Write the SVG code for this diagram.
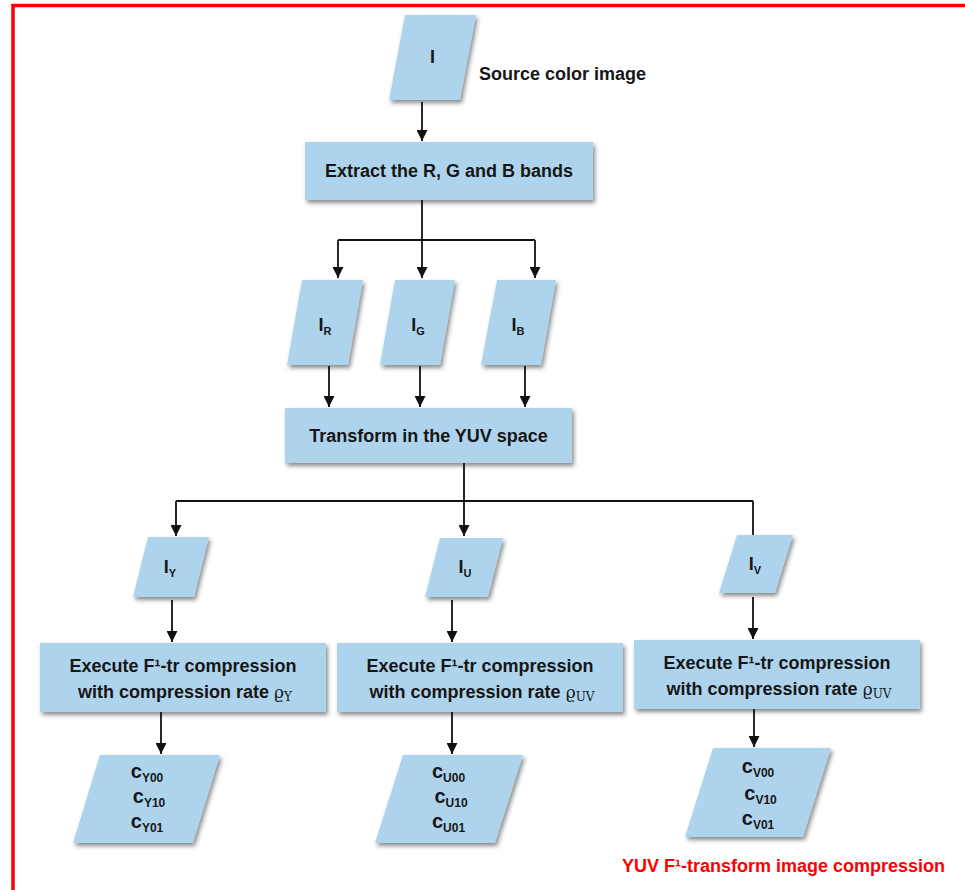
<svg xmlns="http://www.w3.org/2000/svg" width="965" height="890" viewBox="0 0 965 890">
<style>
.shape{fill:#aed4ed;filter:url(#sh)}
.t{font-family:"Liberation Sans",Arial,sans-serif;font-weight:bold;font-size:18px;fill:#161616}
.tm{text-anchor:middle}
.sub{font-size:11px}
.csub{font-size:12px}
.rho{font-family:"DejaVu Serif","Liberation Serif",serif;font-weight:normal;font-size:17px}
.rsub{font-family:"DejaVu Serif","Liberation Serif",serif;font-weight:normal;font-size:12px}
.c{font-size:20px}
.conn path{fill:none;stroke:#111;stroke-width:1.8}
.cap{font-family:"Liberation Sans",Arial,sans-serif;font-weight:bold;font-size:18px;fill:#ff0000}
</style>
<defs>
<filter id="sh" x="-10%" y="-10%" width="130%" height="140%">
<feDropShadow dx="2" dy="3" stdDeviation="2" flood-color="#333" flood-opacity="0.55"/>
</filter>
<marker id="ah" markerUnits="userSpaceOnUse" markerWidth="12" markerHeight="11" refX="11" refY="5.5" orient="auto">
<path d="M0,0 L11,5.5 L0,11 z" fill="#111"/>
</marker>
</defs>
<rect width="965" height="890" fill="#fff"/>
<path d="M13,890 V5.5 H965" fill="none" stroke="#ff0000" stroke-width="3.5"/>

<g id="n-I"><polygon class="shape" points="405,15 476,15 460,100 389,100"/><text class="t tm" x="432.5" y="63">I</text></g>
<text class="t" x="479" y="80">Source color image</text>

<g id="n-extract"><rect class="shape" x="305" y="142" width="288" height="58"/><text class="t tm" x="449" y="177">Extract the R, G and B bands</text></g>

<g id="n-IR"><polygon class="shape" points="302,280 363,280 348,365 287,365"/><text class="t tm" x="325" y="331">I<tspan class="sub" dy="4">R</tspan></text></g>
<g id="n-IG"><polygon class="shape" points="395,280 455,280 440,365 380,365"/><text class="t tm" x="418" y="331">I<tspan class="sub" dy="4">G</tspan></text></g>
<g id="n-IB"><polygon class="shape" points="497,280 556,280 541,365 481,365"/><text class="t tm" x="518" y="331">I<tspan class="sub" dy="4">B</tspan></text></g>

<g id="n-transform"><rect class="shape" x="285" y="408" width="287" height="55"/><text class="t tm" x="428.5" y="442">Transform in the YUV space</text></g>

<g id="n-IY"><polygon class="shape" points="148,537 209,537 194,597 133,597"/><text class="t tm" x="170" y="573">I<tspan class="sub" dy="4">Y</tspan></text></g>
<g id="n-IU"><polygon class="shape" points="440,538 503,538 488,597 425,597"/><text class="t tm" x="465" y="573">I<tspan class="sub" dy="4">U</tspan></text></g>
<g id="n-IV"><polygon class="shape" points="737,535 793,535 775,593 719,593"/><text class="t tm" x="755" y="570">I<tspan class="sub" dy="4">V</tspan></text></g>

<g id="n-execY"><rect class="shape" x="40" y="643" width="286" height="69"/>
<text class="t tm" x="183" y="672">Execute F¹-tr compression</text>
<text class="t tm" x="185" y="698">with compression rate <tspan class="rho">ϱ</tspan><tspan class="rsub" dy="3">Y</tspan></text></g>
<g id="n-execU"><rect class="shape" x="337" y="643" width="286" height="69"/>
<text class="t tm" x="480" y="672">Execute F¹-tr compression</text>
<text class="t tm" x="482" y="698">with compression rate <tspan class="rho">ϱ</tspan><tspan class="rsub" dy="3">UV</tspan></text></g>
<g id="n-execV"><rect class="shape" x="634" y="640" width="286" height="69"/>
<text class="t tm" x="777" y="669">Execute F¹-tr compression</text>
<text class="t tm" x="779" y="695">with compression rate <tspan class="rho">ϱ</tspan><tspan class="rsub" dy="3">UV</tspan></text></g>

<g id="n-cY"><polygon class="shape" points="100,755 220,755 193,843 73,843"/>
<text class="t tm" x="147" y="778"><tspan class="c">c</tspan><tspan class="csub" dy="4">Y00</tspan></text>
<text class="t tm" x="149" y="803"><tspan class="c">c</tspan><tspan class="csub" dy="4">Y10</tspan></text>
<text class="t tm" x="147" y="828"><tspan class="c">c</tspan><tspan class="csub" dy="4">Y01</tspan></text></g>
<g id="n-cU"><polygon class="shape" points="403,755 523,755 495,843 375,843"/>
<text class="t tm" x="448.5" y="778"><tspan class="c">c</tspan><tspan class="csub" dy="4">U00</tspan></text>
<text class="t tm" x="451" y="803"><tspan class="c">c</tspan><tspan class="csub" dy="4">U10</tspan></text>
<text class="t tm" x="448.5" y="828"><tspan class="c">c</tspan><tspan class="csub" dy="4">U01</tspan></text></g>
<g id="n-cV"><polygon class="shape" points="713,748 831,748 803,837 685,837"/>
<text class="t tm" x="758" y="773"><tspan class="c">c</tspan><tspan class="csub" dy="4">V00</tspan></text>
<text class="t tm" x="760.5" y="800"><tspan class="c">c</tspan><tspan class="csub" dy="4">V10</tspan></text>
<text class="t tm" x="758" y="825"><tspan class="c">c</tspan><tspan class="csub" dy="4">V01</tspan></text></g>

<g id="connectors" class="conn">
<path d="M422,102 V141" marker-end="url(#ah)"/>
<path d="M422,200 V278" marker-end="url(#ah)"/>
<path d="M338,240 H535"/>
<path d="M338,240 V278" marker-end="url(#ah)"/>
<path d="M535,240 V278" marker-end="url(#ah)"/>
<path d="M329,366 V407" marker-end="url(#ah)"/>
<path d="M420,366 V407" marker-end="url(#ah)"/>
<path d="M525,366 V407" marker-end="url(#ah)"/>
<path d="M464,463 V536" marker-end="url(#ah)"/>
<path d="M176,501 H753"/>
<path d="M176,501 V536" marker-end="url(#ah)"/>
<path d="M753,501 V535"/>
<path d="M172,600 V642" marker-end="url(#ah)"/>
<path d="M452,600 V642" marker-end="url(#ah)"/>
<path d="M753,597 V639" marker-end="url(#ah)"/>
<path d="M161,712 V754" marker-end="url(#ah)"/>
<path d="M452,712 V754" marker-end="url(#ah)"/>
<path d="M754,709 V747" marker-end="url(#ah)"/>
</g>

<text class="cap" x="622" y="872">YUV F¹-transform image compression</text>
</svg>
